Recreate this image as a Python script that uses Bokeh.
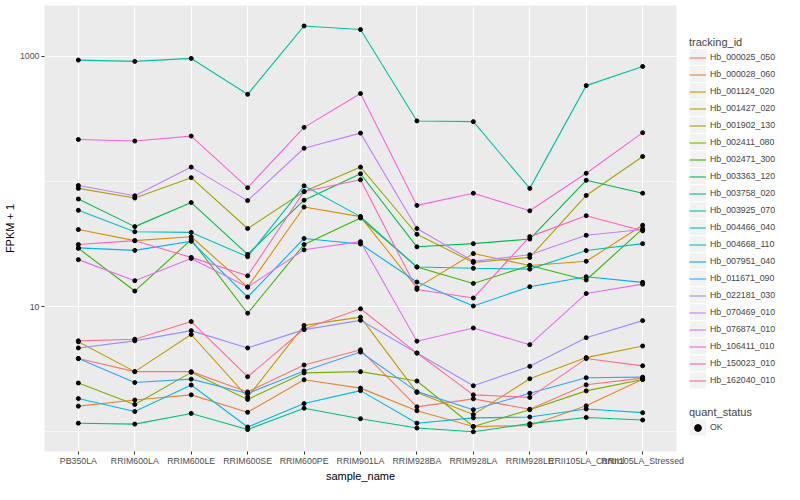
from bokeh.plotting import figure
from bokeh.models import Range1d, FixedTicker, Legend, LegendItem, ColumnDataSource, BasicTickFormatter
from bokeh.layouts import row
from bokeh.embed import file_html
from bokeh.resources import INLINE

samples = ["PB350LA", "RRIM600LA", "RRIM600LE", "RRIM600SE", "RRIM600PE", "RRIM901LA",
           "RRIM928BA", "RRIM928LA", "RRIM928LE", "RRII105LA_Control", "RRII105LA_Stressed"]

tracking_ids = ["Hb_000025_050", "Hb_000028_060", "Hb_001124_020", "Hb_001427_020", "Hb_001902_130",
                "Hb_002411_080", "Hb_002471_300", "Hb_003363_120", "Hb_003758_020", "Hb_003925_070",
                "Hb_004466_040", "Hb_004668_110", "Hb_007951_040", "Hb_011671_090", "Hb_022181_030",
                "Hb_070469_010", "Hb_076874_010", "Hb_106411_010", "Hb_150023_010", "Hb_162040_010"]

colors = ["#F8766D", "#EA8331", "#D89000", "#C09B00", "#A3A500", "#7CAE00", "#39B600", "#00BB4E",
          "#00BF7D", "#00C1A3", "#00BFC4", "#00BAE0", "#00B0F6", "#35A2FF", "#9590FF", "#C77CFF",
          "#E76BF3", "#FA62DB", "#FF62BC", "#FF6C91"]

quant_status = ["OK"]

# FPKM + 1 per sample
Hb_000025_050 = [3.84, 3.02, 3.02, 2.08, 3.41, 4.51, 1.58, 1.83, 1.51, 2.37, 2.68]
Hb_000028_060 = [1.60, 1.79, 1.97, 1.43, 2.60, 2.23, 1.47, 1.10, 1.12, 1.61, 2.63]
Hb_001124_020 = [41.2, 33.6, 36.1, 14.3, 62.4, 52.3, 14.1, 26.5, 21.3, 23.0, 44.6]
Hb_001427_020 = [5.23, 3.02, 5.98, 1.89, 7.07, 8.23, 2.06, 1.37, 2.65, 3.91, 4.84]
Hb_001902_130 = [87.9, 73.6, 107.0, 42.0, 82.9, 130.0, 37.8, 22.5, 24.7, 77.2, 158.0]
Hb_002411_080 = [2.45, 1.65, 2.98, 1.81, 2.95, 3.02, 2.54, 1.10, 1.50, 2.12, 2.61]
Hb_002471_300 = [29.2, 13.3, 34.2, 8.84, 31.3, 51.0, 20.7, 15.3, 21.3, 16.3, 41.8]
Hb_003363_120 = [72.3, 43.5, 67.7, 26.1, 70.7, 115.0, 30.0, 31.8, 34.6, 102.0, 80.4]
Hb_003758_020 = [1.17, 1.15, 1.40, 1.04, 1.54, 1.27, 1.07, 1.00, 1.16, 1.30, 1.24]
Hb_003925_070 = [931.0, 909.0, 960.0, 496.0, 1744.0, 1633.0, 304.0, 300.0, 87.9, 582.0, 828.0]
Hb_004466_040 = [58.7, 39.6, 39.1, 25.0, 92.2, 52.3, 20.7, 20.2, 19.9, 28.0, 31.8]
Hb_004668_110 = [1.84, 1.45, 2.36, 1.09, 1.68, 2.13, 1.17, 1.29, 1.31, 1.52, 1.42]
Hb_007951_040 = [29.4, 28.1, 33.2, 11.9, 35.0, 31.6, 15.7, 10.1, 14.4, 17.3, 15.6]
Hb_011671_090 = [3.84, 2.47, 2.63, 2.02, 3.06, 4.33, 2.09, 1.50, 2.03, 2.70, 2.73]
Hb_022181_030 = [4.67, 5.32, 6.42, 4.67, 6.54, 7.76, 4.25, 2.33, 3.33, 5.64, 7.72]
Hb_070469_010 = [92.7, 76.7, 130.0, 70.2, 184.0, 243.0, 42.0, 23.0, 25.9, 37.1, 41.2]
Hb_076874_010 = [23.7, 16.1, 24.2, 14.3, 28.4, 33.0, 5.29, 6.74, 4.96, 12.7, 15.1]
Hb_106411_010 = [216.0, 210.0, 230.0, 89.0, 270.0, 503.0, 64.3, 80.4, 58.2, 116.0, 245.0]
Hb_150023_010 = [31.3, 33.6, 24.7, 17.6, 82.9, 103.0, 13.7, 11.7, 36.2, 53.2, 40.3]
Hb_162040_010 = [5.32, 5.48, 7.59, 2.75, 6.62, 9.60, 4.25, 1.97, 1.88, 3.84, 3.36]

series = [Hb_000025_050, Hb_000028_060, Hb_001124_020, Hb_001427_020, Hb_001902_130,
          Hb_002411_080, Hb_002471_300, Hb_003363_120, Hb_003758_020, Hb_003925_070,
          Hb_004466_040, Hb_004668_110, Hb_007951_040, Hb_011671_090, Hb_022181_030,
          Hb_070469_010, Hb_076874_010, Hb_106411_010, Hb_150023_010, Hb_162040_010]

y_major = [10, 1000]
y_minor = [1, 100]

FONT = "Liberation Sans"
H = 484
MAIN_W = 688
LEG_W = 784 - MAIN_W
ML, MR, MT, MB = 37, 12, 5, 26
FRAME_BOTTOM = 450.5      # where the aligned frames end (screen px)
LEG_X0 = 8 + MAIN_W       # screen x where the legend panel starts

p = figure(width=MAIN_W, height=H, output_backend="svg", toolbar_location=None,
           y_axis_type="log",
           x_range=Range1d(-0.6, len(samples) - 1 + 0.6),
           y_range=Range1d(10 ** -0.158, 10 ** 3.405),
           min_border_left=ML, min_border_right=MR, min_border_top=MT, min_border_bottom=MB)

p.background_fill_color = "#EBEBEB"
p.border_fill_color = "white"
p.outline_line_color = None

xs = list(range(len(samples)))
p.xaxis.ticker = FixedTicker(ticks=xs)
p.xaxis.major_label_overrides = {i: s for i, s in enumerate(samples)}
p.xgrid.ticker = FixedTicker(ticks=xs)
p.yaxis.ticker = FixedTicker(ticks=y_major, minor_ticks=y_minor)
p.ygrid.ticker = FixedTicker(ticks=y_major, minor_ticks=y_minor)
p.yaxis.formatter = BasicTickFormatter()
p.yaxis.major_label_overrides = {10: "10", 1000: "1000"}

for g in (p.xgrid, p.ygrid):
    g.grid_line_color = "white"
    g.grid_line_width = 1.1
p.ygrid.minor_grid_line_color = "white"
p.ygrid.minor_grid_line_width = 0.55

for ax in (p.xaxis, p.yaxis):
    ax.axis_line_color = None
    ax.major_tick_line_color = "#333333"
    ax.major_tick_out = 3
    ax.major_tick_in = 0
    ax.minor_tick_line_color = None
    ax.major_label_text_font = FONT
    ax.major_label_text_font_size = "8.8px"
    ax.major_label_text_color = "#4D4D4D"
    ax.major_label_standoff = 1
    ax.axis_label_text_font = FONT
    ax.axis_label_text_font_size = "11px"
    ax.axis_label_text_font_style = "normal"
    ax.axis_label_text_color = "black"
    ax.axis_label_standoff = 1
p.xaxis.axis_label = "sample_name"
p.yaxis.axis_label = "FPKM + 1"

for col, vals in zip(colors, series):
    src = ColumnDataSource(dict(x=xs, y=vals))
    p.line("x", "y", source=src, line_color=col, line_width=1.1)
for vals in series:
    src = ColumnDataSource(dict(x=xs, y=vals))
    p.scatter("x", "y", source=src, size=4, color="black")

# ---- legend panel (data units = screen px) ----
lf = figure(width=LEG_W, height=H, output_backend="svg", toolbar_location=None,
            x_range=Range1d(LEG_X0, LEG_X0 + LEG_W), y_range=Range1d(FRAME_BOTTOM, MT),
            x_axis_location=None, y_axis_location=None,
            min_border_left=0, min_border_right=0, min_border_top=MT, min_border_bottom=MB)
lf.grid.visible = False
lf.outline_line_color = None
lf.background_fill_color = "white"
lf.border_fill_color = "white"

KEY = 17
KEY_X = 697
KEYS1_BOTTOM = 388
KEY2_BOTTOM = 435

n = len(tracking_ids)
lf.quad(left=[KEY_X] * n, right=[KEY_X + KEY] * n,
        top=[KEYS1_BOTTOM - KEY * (n - i) for i in range(n)],
        bottom=[KEYS1_BOTTOM - KEY * (n - i - 1) for i in range(n)],
        fill_color="#F2F2F2", line_color="white", line_width=1)
lf.quad(left=[KEY_X], right=[KEY_X + KEY], top=[KEY2_BOTTOM - KEY], bottom=[KEY2_BOTTOM],
        fill_color="#F2F2F2", line_color="white", line_width=1)

items = []
for name, col in zip(tracking_ids, colors):
    r = lf.line(x=[0, 1], y=[0, 1], line_color=col, line_width=1.1)
    items.append(LegendItem(label=name, renderers=[r]))
pr = lf.scatter(x=[0], y=[0], size=4, color="black")


def style_legend(lg):
    lg.title_text_font = FONT
    lg.title_text_font_size = "11px"
    lg.title_text_font_style = "normal"
    lg.title_standoff = 1
    lg.label_text_font = FONT
    lg.label_text_font_size = "8.8px"
    lg.glyph_width = KEY
    lg.glyph_height = KEY
    lg.label_height = KEY
    lg.label_standoff = 4
    lg.spacing = 0
    lg.padding = 0
    lg.margin = 0
    lg.border_line_color = None
    lg.background_fill_alpha = 0


leg1 = Legend(items=items, title="tracking_id",
              location=(KEY_X - LEG_X0, FRAME_BOTTOM - KEYS1_BOTTOM))
style_legend(leg1)
lf.add_layout(leg1, "center")

leg2 = Legend(items=[LegendItem(label=quant_status[0], renderers=[pr])], title="quant_status",
              location=(KEY_X - LEG_X0, FRAME_BOTTOM - KEY2_BOTTOM))
style_legend(leg2)
lf.add_layout(leg2, "center")

layout = row(p, lf, spacing=0)
open("out.html", "w").write(file_html(layout, INLINE))
